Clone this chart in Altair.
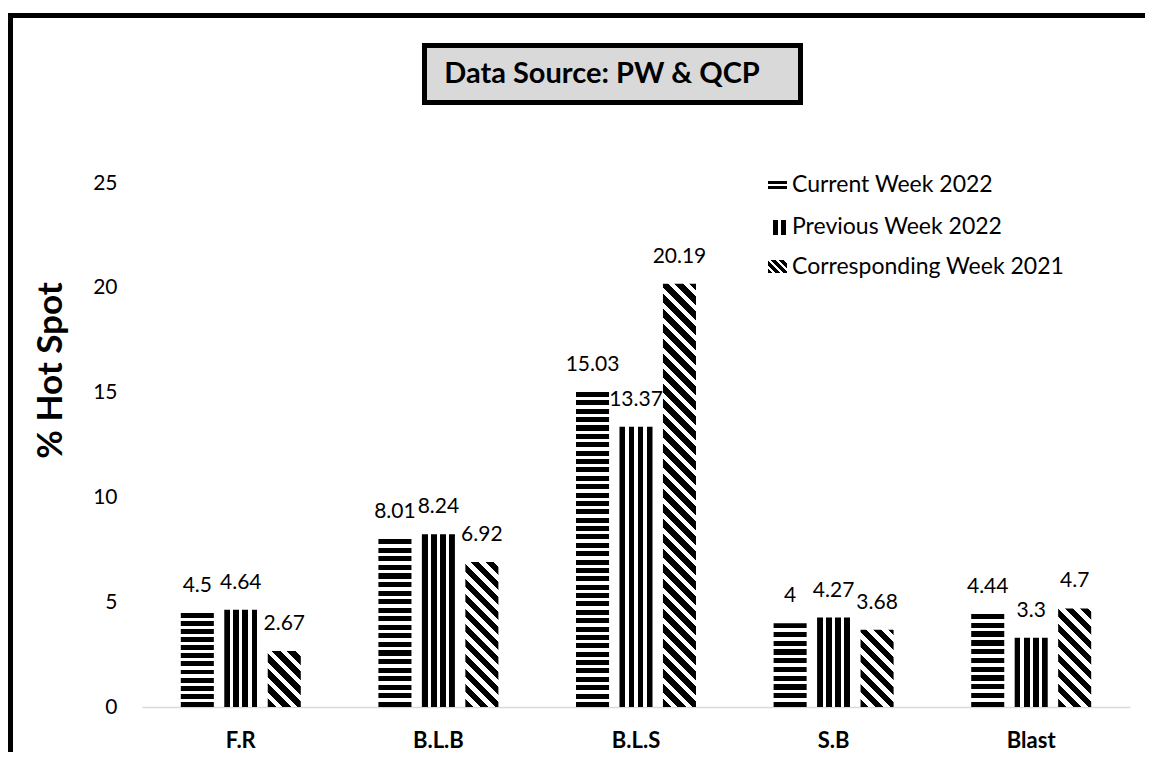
import math
import altair as alt
import pandas as pd

# ---------------- data ----------------
categories = ["F.R", "B.L.B", "B.L.S", "S.B", "Blast"]
series = ["Current Week 2022", "Previous Week 2022", "Corresponding Week 2021"]
current_2022 = [4.5, 8.01, 15.03, 4.0, 4.44]
previous_2022 = [4.64, 8.24, 13.37, 4.27, 3.3]
corresponding_2021 = [2.67, 6.92, 20.19, 3.68, 4.7]
y_ticks = [0, 5, 10, 15, 20, 25]
title_text = "Data Source: PW & QCP"
y_title = "% Hot Spot"

values_by_series = [current_2022, previous_2022, corresponding_2021]
rows = []
for s, vals in zip(series, values_by_series):
    for c, v in zip(categories, vals):
        rows.append({"category": c, "series": s, "value": v, "label": f"{v:g}"})
df = pd.DataFrame(rows)

# ---------------- layout ----------------
PLOT_W, PLOT_H = 988, 524
Y_MAX = 25
PX_PER_UNIT = PLOT_H / Y_MAX
BAR_W = 33.0
FONT = "Lato"


def stripe_stops(n_cycles, black_frac):
    stops = []
    k = 0
    while k / n_cycles < 1:
        a = k / n_cycles
        b = min((k + black_frac) / n_cycles, 1)
        c = min((k + 1) / n_cycles, 1)
        stops += [
            alt.GradientStop(offset=a, color="black"),
            alt.GradientStop(offset=b, color="black"),
            alt.GradientStop(offset=b, color="white"),
            alt.GradientStop(offset=c, color="white"),
        ]
        k += 1
    return stops


def horiz_pattern(h, period=8.4, black=0.6):
    gaps = max(round(h / period - black), 1)
    n = gaps + black
    return alt.LinearGradient(gradient="linear", stops=stripe_stops(n, black),
                              x1=0, y1=1, x2=0, y2=0)


def vert_pattern(gaps=3, black=0.64):
    n = gaps + black
    return alt.LinearGradient(gradient="linear", stops=stripe_stops(n, black),
                              x1=0, y1=0, x2=1, y2=0)


def diag_pattern(h, w=BAR_W, period=15.0, black=0.55):
    a = (w + h) * w / (w * w + h * h)
    n = (w + h) / period
    return alt.LinearGradient(gradient="linear", stops=stripe_stops(n, black),
                              x1=0, y1=1, x2=a, y2=1 - a * h / w)


x_enc = alt.X("category:N",
              scale=alt.Scale(domain=categories, paddingInner=0.34, paddingOuter=0.17),
              axis=alt.Axis(title=None, labelAngle=0, labelFont=FONT, labelFontWeight="bold",
                            labelFontSize=22, labelColor="black", labelPadding=23,
                            ticks=False, tickSize=0, domainColor="#d9d9d9", domainWidth=1.5,
                            grid=False))
xo_enc = alt.XOffset("series:N",
                     scale=alt.Scale(domain=series, paddingInner=0.24, paddingOuter=0.12))
y_enc = alt.Y("value:Q",
              scale=alt.Scale(domain=[0, Y_MAX], nice=False),
              axis=alt.Axis(values=y_ticks, title=y_title, titleFont=FONT, titleFontSize=35,
                            titleFontWeight="bold", titleColor="black", titleAngle=270,
                            titleX=-92, titleY=187, titleAlign="center", titleBaseline="middle",
                            labelFont=FONT, labelFontSize=21, labelColor="black",
                            labelPadding=25, ticks=False, tickSize=0, domain=False, grid=False))

base = alt.Chart(df).encode(x=x_enc, xOffset=xo_enc, y=y_enc)

layers = []

# outer frame
frame = alt.Chart(pd.DataFrame({"k": [0]})).mark_rect(
    fillOpacity=0, stroke="black", strokeWidth=5
).encode(x=alt.value(-131.5), x2=alt.value(1100), y=alt.value(-167.5), y2=alt.value(700))
layers.append(frame)

# bars
for c, v in zip(categories, current_2022):
    layers.append(base.transform_filter(
        (alt.datum.series == series[0]) & (alt.datum.category == c)
    ).mark_bar(fill=horiz_pattern(v * PX_PER_UNIT)))

layers.append(base.transform_filter(alt.datum.series == series[1]).mark_bar(fill=vert_pattern()))

for c, v in zip(categories, corresponding_2021):
    layers.append(base.transform_filter(
        (alt.datum.series == series[2]) & (alt.datum.category == c)
    ).mark_bar(fill=diag_pattern(v * PX_PER_UNIT)))

# value labels
layers.append(base.mark_text(dy=-27, baseline="middle", font=FONT, fontSize=21,
                             color="black").encode(text="label:N"))

# title box
box_df = pd.DataFrame({"t": [title_text]})
layers.append(alt.Chart(box_df).mark_rect(fill="#d9d9d9", stroke="black", strokeWidth=5).encode(
    x=alt.value(282.5), x2=alt.value(658.5), y=alt.value(-137.5), y2=alt.value(-80.5)))
layers.append(alt.Chart(box_df).mark_text(font=FONT, fontSize=29, fontWeight="bold",
                                          color="black", baseline="middle", align="center").encode(
    text="t:N", x=alt.value(460), y=alt.value(-109)))

# legend
leg_text_y = [2, 44, 84]
leg_symbols = [
    (horiz_pattern(8, period=4.6, black=0.6), (626, 645, -2, 6)),
    (vert_pattern(gaps=1, black=0.6), (631, 644, 37, 52)),
    (diag_pattern(13, w=19, period=8, black=0.55), (626, 645, 77, 90)),
]
for i, s in enumerate(series):
    d = pd.DataFrame({"s": [s]})
    fill, (xa, xb, ya, yb) = leg_symbols[i]
    layers.append(alt.Chart(d).mark_rect(fill=fill).encode(
        x=alt.value(xa), x2=alt.value(xb), y=alt.value(ya), y2=alt.value(yb)))
    layers.append(alt.Chart(d).mark_text(font=FONT, fontSize=23, color="black", align="left",
                                         baseline="middle").encode(
        text="s:N", x=alt.value(650), y=alt.value(leg_text_y[i])))

chart = alt.layer(*layers).properties(
    width=PLOT_W, height=PLOT_H,
    autosize=alt.AutoSizeParams(type="none"),
    padding={"left": 134, "top": 175, "right": 15, "bottom": 45},
    background="white",
).configure_view(strokeWidth=0)

chart.save("out.html", embed_options={"renderer": "svg", "actions": False})
